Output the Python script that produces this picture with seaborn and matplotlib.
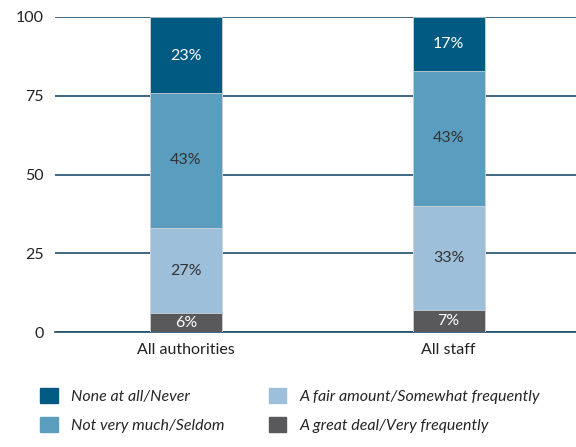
import numpy as np
import pandas as pd
import matplotlib
matplotlib.use("Agg")
import matplotlib.pyplot as plt
import seaborn as sns
from matplotlib.patches import Patch

groups = ["All authorities", "All staff"]
series = ["A great deal/Very frequently", "A fair amount/Somewhat frequently",
          "Not very much/Seldom", "None at all/Never"]
values = {
    "A great deal/Very frequently": [6, 7],
    "A fair amount/Somewhat frequently": [27, 33],
    "Not very much/Seldom": [43, 43],
    "None at all/Never": [23, 17],
}
colors = ["#59595b", "#9dbfd9", "#5b9dbf", "#005a82"]
text_colors = ["white", "#333333", "#333333", "white"]

sns.set_style("white")
plt.rcParams["font.family"] = ["Lato", "DejaVu Sans"]
axis_col = "#1f4e6e"

fig = plt.figure(figsize=(5.76, 4.47), dpi=100)
ax = fig.add_axes([0.095, 0.257, 0.905, 0.705])

cum = np.cumsum([values[s] for s in series], axis=0)
width = 0.275
# draw cumulative totals from top down so each bar covers the one above
for i in range(len(series) - 1, -1, -1):
    top = cum[i] if i < len(series) - 1 else np.maximum(cum[i], 100)
    df = pd.DataFrame({"group": groups, "val": top})
    sns.barplot(data=df, x="group", y="val", color=colors[i], width=width,
                saturation=1, ax=ax, zorder=3, edgecolor="#dddddd", linewidth=0.5)

for i, s in enumerate(series):
    for j in range(len(groups)):
        lo = cum[i][j] - values[s][j]
        hi = min(cum[i][j], 100)
        ax.text(j, (lo + hi) / 2, f"{values[s][j]}%", ha="center", va="center",
                fontsize=11.5, color=text_colors[i], zorder=5)

ax.set_xlim(-0.5, 1.485)
ax.set_ylim(0, 100)
ax.set_yticks([0, 25, 50, 75, 100])
ax.yaxis.grid(True, color=axis_col, linewidth=1.2, zorder=0)
ax.set_axisbelow(True)
for sp in ["top", "right", "left"]:
    ax.spines[sp].set_visible(False)
ax.spines["bottom"].set_color(axis_col)
ax.spines["bottom"].set_linewidth(1.2)
ax.set_xlabel("")
ax.set_ylabel("")
ax.tick_params(axis="both", length=0, labelsize=11.5, colors="#222222", pad=8)

order = [3, 2, 1, 0]
handles = [Patch(color=colors[i]) for i in order]
labels = [series[i] for i in order]
fig.legend(handles, labels, loc="lower left", bbox_to_anchor=(0.045, 0.0), ncol=2,
           frameon=False, prop={"style": "italic", "size": 11.5},
           handlelength=1.1, handleheight=1.1, columnspacing=2.8, labelspacing=0.8)

fig.savefig("out.png", dpi=100)
